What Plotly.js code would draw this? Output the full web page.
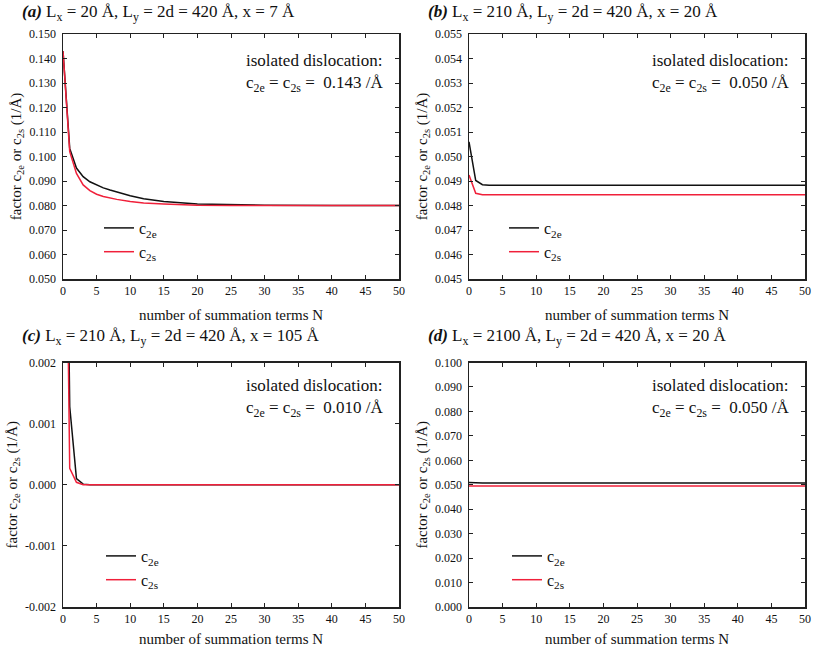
<!DOCTYPE html>
<html>
<head>
<meta charset="utf-8">
<script src="https://cdn.plot.ly/plotly-3.0.1.min.js"></script>
<style>html,body{margin:0;padding:0;background:#fff;}#chart{width:813px;height:647px;}</style>
</head>
<body>
<div id="chart"></div>
<script>
// ---- data ----
// panel (a): Lx = 20 Å, x = 7 Å
const nA   = [0, 1, 2, 3, 4, 5, 6, 7, 8, 10, 12, 15, 20, 25, 30, 40, 50];
const c2eA = [0.1430, 0.1033, 0.0953, 0.0918, 0.0897, 0.0884, 0.0872, 0.0863, 0.0855, 0.0840, 0.0828, 0.0816, 0.0806, 0.0802, 0.0801, 0.0800, 0.0800];
const c2sA = [0.1430, 0.1020, 0.0931, 0.0884, 0.0861, 0.0846, 0.0837, 0.0830, 0.0825, 0.0816, 0.0810, 0.0806, 0.0801, 0.0800, 0.0800, 0.0800, 0.0800];
// panel (b): Lx = 210 Å, x = 20 Å
const nB   = [0, 1, 2, 3, 5, 10, 20, 30, 40, 50];
const c2eB = [0.05060, 0.04902, 0.04885, 0.04883, 0.04883, 0.04883, 0.04883, 0.04883, 0.04883, 0.04883];
const c2sB = [0.04924, 0.04850, 0.04844, 0.04844, 0.04844, 0.04844, 0.04844, 0.04844, 0.04844, 0.04844];
// panel (c): Lx = 210 Å, x = 105 Å
const nC   = [0, 1, 2, 3, 4, 5, 10, 20, 30, 40, 50];
const c2eC = [0.01000, 0.00128, 0.00010, 0.00001, 0, 0, 0, 0, 0, 0, 0];
const c2sC = [0.00900, 0.00027, 0.00004, 0, 0, 0, 0, 0, 0, 0, 0];
// panel (d): Lx = 2100 Å, x = 20 Å
const nD   = [0, 1, 2, 5, 10, 20, 30, 40, 50];
const c2eD = [0.0509, 0.0507, 0.0507, 0.0507, 0.0507, 0.0507, 0.0507, 0.0507, 0.0507];
const c2sD = [0.0495, 0.0495, 0.0495, 0.0495, 0.0495, 0.0495, 0.0495, 0.0495, 0.0495];

const panelTitles = [
  '<b><i>(a)</i></b> L<sub>x</sub> = 20 Å, L<sub>y</sub> = 2d = 420 Å, x = 7 Å',
  '<b><i>(b)</i></b> L<sub>x</sub> = 210 Å, L<sub>y</sub> = 2d = 420 Å, x = 20 Å',
  '<b><i>(c)</i></b> L<sub>x</sub> = 210 Å, L<sub>y</sub> = 2d = 420 Å, x = 105 Å',
  '<b><i>(d)</i></b> L<sub>x</sub> = 2100 Å, L<sub>y</sub> = 2d = 420 Å, x = 20 Å'
];
const isolatedValues = ['0.143', '0.050', '0.010', '0.050'];
const seriesNames = ['c<sub>2e</sub>', 'c<sub>2s</sub>'];
const yTickValsC = [-0.002, -0.001, 0, 0.001, 0.002];
const yTickTextC = ['-0.002', '-0.001', '0.000', '0.001', '0.002'];

// ---- styling ----
const W = 813, H = 647;
const FONT = 'Liberation Serif, Times New Roman, serif';
const BLACK = '#111111';
const RED = '#f0203a';
const px = v => v / W;
const py = v => 1 - v / H;

const boxes = [ // [left, right, top, bottom] in px
  [63, 399, 34, 279],
  [469, 805, 34, 279],
  [63, 399, 362.5, 607],
  [469, 805, 362.5, 607]
];
const yRanges = [[0.05, 0.15], [0.045, 0.055], [-0.002, 0.002], [0, 0.1]];
const yDticks = [0.01, 0.001, 0.001, 0.01];
const data = [[nA, c2eA, c2sA], [nB, c2eB, c2sB], [nC, c2eC, c2sC], [nD, c2eD, c2sD]];

const traces = [];
const layout = {
  width: W, height: H,
  margin: {l: 0, r: 0, t: 0, b: 0},
  paper_bgcolor: '#fff', plot_bgcolor: '#fff',
  font: {family: FONT, color: BLACK},
  annotations: [], showlegend: true
};

const legendText = [[139, 240], [544, 240], [141, 568], [547, 568]];
const titlePos = [[20, 13], [426, 13], [20, 337], [426, 337]];
const isoPos = [[386, 72.5], [792, 72.5], [386, 398], [792, 398]];

boxes.forEach((b, i) => {
  const k = i === 0 ? '' : String(i + 1);
  const xa = 'xaxis' + k, ya = 'yaxis' + k;
  const lg = 'legend' + k;
  const [n, e, s] = data[i];
  traces.push({x: n, y: e, xaxis: 'x' + k, yaxis: 'y' + k, type: 'scatter', mode: 'lines',
    name: seriesNames[0], legend: lg, line: {color: BLACK, width: 1.5}});
  traces.push({x: n, y: s, xaxis: 'x' + k, yaxis: 'y' + k, type: 'scatter', mode: 'lines',
    name: seriesNames[1], legend: lg, line: {color: RED, width: 1.5}});

  layout[xa] = {
    domain: [px(b[0]), px(b[1])], anchor: 'y' + k,
    range: [0, 50], tick0: 0, dtick: 5,
    ticks: 'inside', ticklen: 4, tickwidth: 1, tickcolor: '#222',
    mirror: 'allticks', showline: true, linecolor: '#222', linewidth: 1.5,
    showgrid: false, zeroline: false, fixedrange: true,
    tickfont: {family: FONT, size: 12, color: BLACK},
    title: {text: 'number of summation terms N', font: {family: FONT, size: 15, color: BLACK}, standoff: 12}
  };
  const yax = {
    domain: [py(b[3]), py(b[2])], anchor: 'x' + k,
    range: yRanges[i], tick0: yRanges[i][0], dtick: yDticks[i], tickformat: '.3f',
    ticks: 'inside', ticklen: 4, tickwidth: 1, tickcolor: '#222',
    mirror: 'allticks', showline: true, linecolor: '#222', linewidth: 1.5,
    showgrid: false, zeroline: false, fixedrange: true,
    tickfont: {family: FONT, size: 12, color: BLACK},
    ticklabelstandoff: 3,
    title: {text: 'factor c<sub>2e</sub> or c<sub>2s</sub> (1/Å)', font: {family: FONT, size: 15, color: BLACK}, standoff: 4}
  };
  if (i === 2) { yax.tickmode = 'array'; yax.tickvals = yTickValsC; yax.ticktext = yTickTextC; }
  layout[ya] = yax;

  layout[lg] = {
    x: px(legendText[i][0] - 40), xanchor: 'left',
    y: py(legendText[i][1]), yanchor: 'middle',
    bgcolor: 'rgba(0,0,0,0)', borderwidth: 0, tracegroupgap: 0,
    font: {family: FONT, size: 16, color: BLACK}
  };

  layout.annotations.push({
    xref: 'paper', yref: 'paper', x: px(titlePos[i][0]), y: py(titlePos[i][1]),
    xanchor: 'left', yanchor: 'middle', showarrow: false,
    text: panelTitles[i], font: {family: FONT, size: 17, color: BLACK}
  });
  layout.annotations.push({
    xref: 'paper', yref: 'paper', x: px(isoPos[i][0]), y: py(isoPos[i][1]),
    xanchor: 'right', yanchor: 'middle', align: 'left', showarrow: false,
    text: 'isolated dislocation:<br>c<sub>2e</sub> = c<sub>2s</sub> = \u00a0' + isolatedValues[i] + ' /Å',
    font: {family: FONT, size: 17, color: BLACK}
  });
});

Plotly.newPlot('chart', traces, layout, {displayModeBar: false, staticPlot: true});
</script>
</body>
</html>
